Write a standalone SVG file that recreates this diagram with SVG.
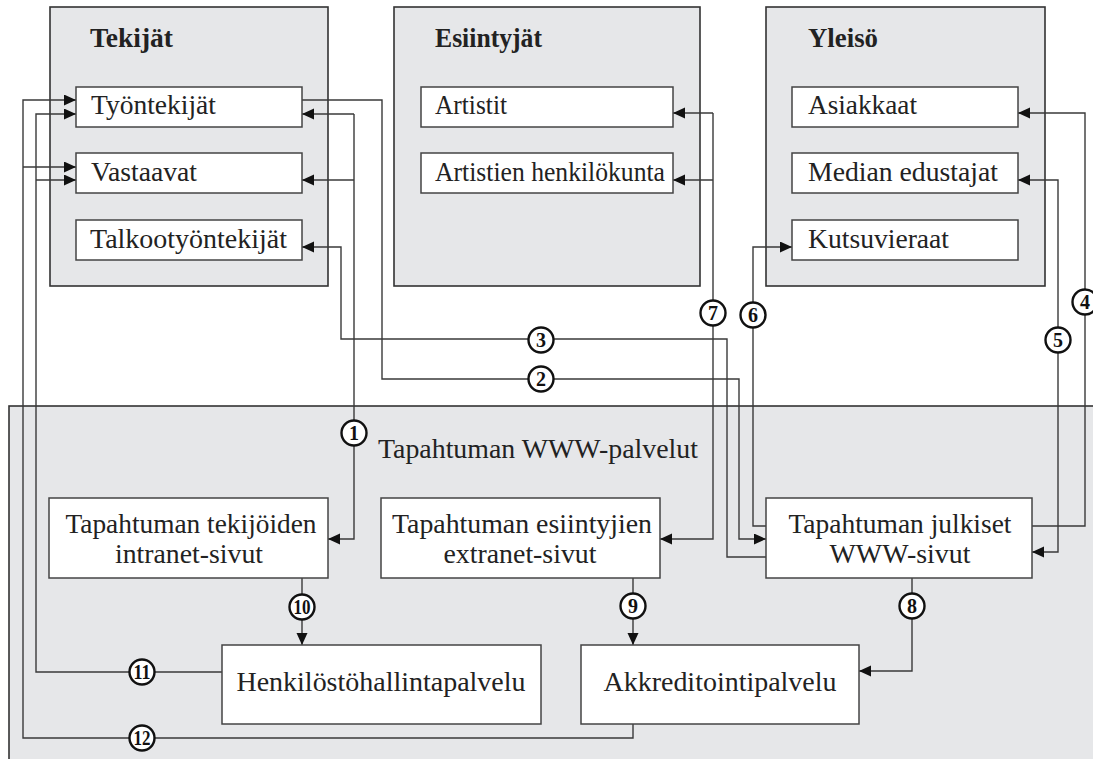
<svg xmlns="http://www.w3.org/2000/svg" width="1093" height="759" viewBox="0 0 1093 759">
  <style>
    text { font-family: "Liberation Serif", Tinos, "Times New Roman", Times, serif; }
    .group { fill: #e6e7e9; stroke: #333; stroke-width: 1.6; }
    .box { fill: #fff; stroke: #444; stroke-width: 1.5; }
    .head { font-weight: bold; font-size: 26.5px; fill: #222; }
    .lbl { font-size: 27.5px; fill: #222; }
    .svc { font-size: 28px; fill: #222; text-anchor: middle; }
    .wire { fill: none; stroke: #3a3a3a; stroke-width: 1.4; }
    .num circle { fill: #fff; stroke: #111; stroke-width: 2.4; }
    .num text { font-weight: bold; font-size: 20px; fill: #111; text-anchor: middle; }
  </style>
  <defs>
    <marker id="arrow" markerUnits="userSpaceOnUse" markerWidth="14" markerHeight="12" refX="12" refY="5.5" orient="auto-start-reverse">
      <path d="M0,0 L12,5.5 L0,11 z" fill="#111"/>
    </marker>
  </defs>

  <rect width="1093" height="759" fill="#fff"/>

  <!-- service area -->
  <g id="www-palvelut">
    <rect class="group" x="9" y="406" width="1100" height="370"/>
    <text class="lbl" x="378" y="458" textLength="320" lengthAdjust="spacingAndGlyphs">Tapahtuman WWW-palvelut</text>
  </g>

  <!-- stakeholder groups -->
  <g id="tekijat">
    <rect class="group" x="50" y="7" width="278" height="279"/>
    <text class="head" x="90" y="47" textLength="83" lengthAdjust="spacingAndGlyphs">Tekijät</text>
  </g>
  <g id="esiintyjat">
    <rect class="group" x="394" y="7" width="306" height="279"/>
    <text class="head" x="435" y="47" textLength="107" lengthAdjust="spacingAndGlyphs">Esiintyjät</text>
  </g>
  <g id="yleiso">
    <rect class="group" x="766" y="7" width="279" height="279"/>
    <text class="head" x="808" y="47" textLength="70" lengthAdjust="spacingAndGlyphs">Yleisö</text>
  </g>

  <!-- connectors -->
  <g id="connectors">
    <path class="wire" d="M354,114 V539 H328" marker-end="url(#arrow)"/>
    <path class="wire" d="M354,114 H302" marker-end="url(#arrow)"/>
    <path class="wire" d="M354,180 H302" marker-end="url(#arrow)"/>
    <path class="wire" d="M302,100 H382 V379 H739 V539 H766" marker-end="url(#arrow)"/>
    <path class="wire" d="M766,557 H727 V339 H341 V247 H302" marker-end="url(#arrow)"/>
    <path class="wire" d="M1032,526 H1085 V113 H1018" marker-end="url(#arrow)"/>
    <path class="wire" d="M1018,180 H1058 V552 H1032" marker-start="url(#arrow)" marker-end="url(#arrow)"/>
    <path class="wire" d="M766,526 H753 V247 H792" marker-end="url(#arrow)"/>
    <path class="wire" d="M713,113 V539 H660" marker-end="url(#arrow)"/>
    <path class="wire" d="M713,113 H673" marker-end="url(#arrow)"/>
    <path class="wire" d="M713,180 H673" marker-end="url(#arrow)"/>
    <path class="wire" d="M912,578 V671 H859" marker-end="url(#arrow)"/>
    <path class="wire" d="M633,578 V645" marker-end="url(#arrow)"/>
    <path class="wire" d="M302,578 V645" marker-end="url(#arrow)"/>
    <path class="wire" d="M222,672 H36 V114 H76" marker-end="url(#arrow)"/>
    <path class="wire" d="M36,180 H76" marker-end="url(#arrow)"/>
    <path class="wire" d="M633,724 V738 H23 V100 H76" marker-end="url(#arrow)"/>
    <path class="wire" d="M23,167 H76" marker-end="url(#arrow)"/>
  </g>

  <!-- flow numbers -->
  <g id="numbers" class="num">
    <circle cx="354" cy="433" r="12.5"/><text x="354" y="440">1</text>
    <circle cx="541" cy="379" r="12.5"/><text x="541" y="386">2</text>
    <circle cx="541" cy="340" r="12.5"/><text x="541" y="347">3</text>
    <circle cx="1085" cy="302" r="12.5"/><text x="1085" y="309">4</text>
    <circle cx="1058" cy="340" r="12.5"/><text x="1058" y="347">5</text>
    <circle cx="753" cy="315" r="12.5"/><text x="753" y="322">6</text>
    <circle cx="713" cy="313" r="12.5"/><text x="713" y="320">7</text>
    <circle cx="912" cy="606" r="12.5"/><text x="912" y="613">8</text>
    <circle cx="633" cy="606" r="12.5"/><text x="633" y="613">9</text>
    <circle cx="302" cy="607" r="12.5"/><text x="302" y="614" textLength="17" lengthAdjust="spacingAndGlyphs">10</text>
    <circle cx="142" cy="672" r="12.5"/><text x="142" y="679" textLength="17" lengthAdjust="spacingAndGlyphs">11</text>
    <circle cx="142" cy="738" r="12.5"/><text x="142" y="745" textLength="17" lengthAdjust="spacingAndGlyphs">12</text>
  </g>

  <!-- Tekijät members -->
  <g id="tyontekijat"><rect class="box" x="76" y="87" width="226" height="40"/><text class="lbl" x="91" y="114" textLength="125" lengthAdjust="spacingAndGlyphs">Työntekijät</text></g>
  <g id="vastaavat"><rect class="box" x="76" y="153" width="226" height="40"/><text class="lbl" x="91" y="181" textLength="106" lengthAdjust="spacingAndGlyphs">Vastaavat</text></g>
  <g id="talkootyontekijat"><rect class="box" x="76" y="220" width="226" height="40"/><text class="lbl" x="90" y="248" textLength="197" lengthAdjust="spacingAndGlyphs">Talkootyöntekijät</text></g>

  <!-- Esiintyjät members -->
  <g id="artistit"><rect class="box" x="421" y="87" width="252" height="40"/><text class="lbl" x="435" y="114" textLength="72" lengthAdjust="spacingAndGlyphs">Artistit</text></g>
  <g id="artistien-henkilokunta"><rect class="box" x="421" y="153" width="252" height="40"/><text class="lbl" x="435" y="181" textLength="230" lengthAdjust="spacingAndGlyphs">Artistien henkilökunta</text></g>

  <!-- Yleisö members -->
  <g id="asiakkaat"><rect class="box" x="792" y="87" width="226" height="40"/><text class="lbl" x="808" y="114" textLength="109" lengthAdjust="spacingAndGlyphs">Asiakkaat</text></g>
  <g id="median-edustajat"><rect class="box" x="792" y="153" width="226" height="40"/><text class="lbl" x="808" y="181" textLength="190" lengthAdjust="spacingAndGlyphs">Median edustajat</text></g>
  <g id="kutsuvieraat"><rect class="box" x="792" y="220" width="226" height="40"/><text class="lbl" x="808" y="248" textLength="141" lengthAdjust="spacingAndGlyphs">Kutsuvieraat</text></g>

  <!-- services -->
  <g id="intranet">
    <rect class="box" x="49" y="498" width="279" height="80"/>
    <text class="svc" x="191" y="533" textLength="251" lengthAdjust="spacingAndGlyphs">Tapahtuman tekijöiden</text>
    <text class="svc" x="189" y="563" textLength="148" lengthAdjust="spacingAndGlyphs">intranet-sivut</text>
  </g>
  <g id="extranet">
    <rect class="box" x="381" y="498" width="279" height="80"/>
    <text class="svc" x="522" y="533" textLength="260" lengthAdjust="spacingAndGlyphs">Tapahtuman esiintyjien</text>
    <text class="svc" x="520" y="563" textLength="153" lengthAdjust="spacingAndGlyphs">extranet-sivut</text>
  </g>
  <g id="julkiset">
    <rect class="box" x="766" y="498" width="266" height="80"/>
    <text class="svc" x="900" y="533" textLength="223" lengthAdjust="spacingAndGlyphs">Tapahtuman julkiset</text>
    <text class="svc" x="900" y="563" textLength="141" lengthAdjust="spacingAndGlyphs">WWW-sivut</text>
  </g>
  <g id="henkilostohallinta">
    <rect class="box" x="222" y="645" width="319" height="79"/>
    <text class="svc" x="381" y="691" textLength="289" lengthAdjust="spacingAndGlyphs">Henkilöstöhallintapalvelu</text>
  </g>
  <g id="akkreditointi">
    <rect class="box" x="581" y="645" width="278" height="79"/>
    <text class="svc" x="720" y="691" textLength="233" lengthAdjust="spacingAndGlyphs">Akkreditointipalvelu</text>
  </g>
</svg>
